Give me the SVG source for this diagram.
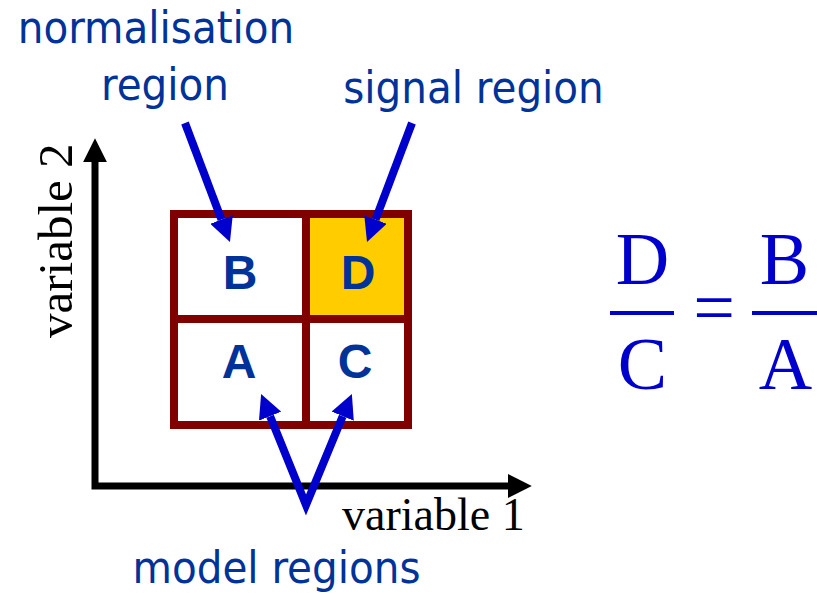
<svg xmlns="http://www.w3.org/2000/svg" width="817" height="595" viewBox="0 0 817 595">
<style>
.lbl{font-family:"DejaVu Sans Condensed","DejaVu Sans",sans-serif;font-stretch:condensed;font-size:45px;fill:#003399;text-anchor:middle}
.cell{font-family:"Liberation Sans",Arial,sans-serif;font-weight:bold;font-size:48px;fill:#003399;text-anchor:middle}
.axt{font-family:"Liberation Serif","Times New Roman",serif;font-size:46px;fill:#000}
.frm{font-family:"Liberation Serif","Times New Roman",serif;font-size:74px;fill:#0000CC;text-anchor:middle}
.ptr{fill:none;stroke:#0000CC;stroke-width:8;stroke-linejoin:miter}
.ax{fill:none;stroke:#000;stroke-width:7;stroke-linejoin:miter}
</style>
<defs>
<marker id="bh" viewBox="0 0 10 10" refX="0" refY="5" markerWidth="3" markerHeight="3" orient="auto-start-reverse" markerUnits="strokeWidth">
<path d="M0,0 L10,5 L0,10 z" fill="#0000CC"/>
</marker>
<marker id="kh" viewBox="0 0 10 10" refX="0" refY="5" markerWidth="3.4" markerHeight="3.4" orient="auto-start-reverse" markerUnits="strokeWidth">
<path d="M0,0 L10,5 L0,10 z" fill="#000"/>
</marker>
</defs>
<rect width="817" height="595" fill="#fff"/>
<g id="axes">
<path class="ax" d="M95,162 L95,486 L508,486" marker-start="url(#kh)" marker-end="url(#kh)"/>
<text class="axt" x="342" y="530">variable 1</text>
<text class="axt" transform="translate(72,338) rotate(-90)" style="font-size:49px">variable 2</text>
</g>
<g id="grid">
<rect x="310" y="218" width="94" height="97" fill="#FFCC00"/>
<rect x="174" y="214" width="234" height="211" fill="none" stroke="#800000" stroke-width="8"/>
<line x1="306" y1="214" x2="306" y2="425" stroke="#800000" stroke-width="8"/>
<line x1="174" y1="319" x2="408" y2="319" stroke="#800000" stroke-width="8"/>
</g>
<g id="nodeB"><text class="cell" x="240" y="289">B</text></g>
<g id="nodeD"><text class="cell" x="358" y="289">D</text></g>
<g id="nodeA"><text class="cell" x="239" y="378">A</text></g>
<g id="nodeC"><text class="cell" x="355" y="378">C</text></g>
<g id="labelNorm">
<text class="lbl" x="156" y="43">normalisation</text>
<text class="lbl" x="165" y="100">region</text>
</g>
<g id="labelSignal"><text class="lbl" x="473.5" y="103">signal region</text></g>
<g id="labelModel"><text class="lbl" x="276.5" y="583">model regions</text></g>
<g id="connectors">
<path class="ptr" d="M185,123 L221.5,219.6" marker-end="url(#bh)"/>
<path class="ptr" d="M412,123 L375.5,219.6" marker-end="url(#bh)"/>
<path class="ptr" d="M270.1,416.2 L306,505 L342.7,416.2" marker-start="url(#bh)" marker-end="url(#bh)"/>
</g>
<g id="formula">
<text class="frm" x="642.5" y="284">D</text>
<text class="frm" x="642.5" y="389">C</text>
<rect x="610" y="311" width="64" height="4" fill="#0000CC"/>
<text class="frm" x="714" y="332">=</text>
<text class="frm" x="784.5" y="284">B</text>
<text class="frm" x="785.5" y="389">A</text>
<rect x="752" y="311" width="65" height="4" fill="#0000CC"/>
</g>
</svg>
